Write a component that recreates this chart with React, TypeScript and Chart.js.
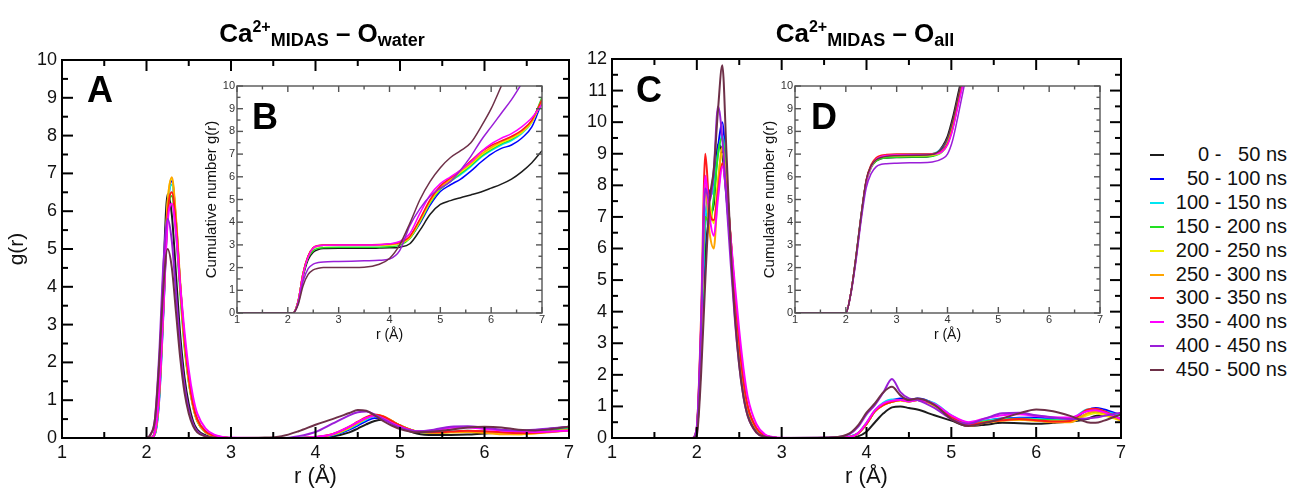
import React, { useEffect, useRef } from "react";
import { Chart, registerables } from "chart.js";

Chart.register(...registerables);

const FONT = "'Liberation Sans', Arial, Helvetica, sans-serif";

const SERIES_LABELS = [
  "0 -   50 ns", "50 - 100 ns", "100 - 150 ns", "150 - 200 ns", "200 - 250 ns",
  "250 - 300 ns", "300 - 350 ns", "350 - 400 ns", "400 - 450 ns", "450 - 500 ns",
];
const SERIES_COLORS = [
  "#1c1c1c", "#0000ff", "#00e6f2", "#22e022", "#f0f000",
  "#ffa500", "#ff1a1a", "#ff00ff", "#9a1ed8", "#6e3048",
];

const X_TICKS = [1, 2, 3, 4, 5, 6, 7];
const Y_TICKS_A = [0, 1, 2, 3, 4, 5, 6, 7, 8, 9, 10];
const Y_TICKS_C = [0, 1, 2, 3, 4, 5, 6, 7, 8, 9, 10, 11, 12];
const Y_TICKS_INSET = [0, 1, 2, 3, 4, 5, 6, 7, 8, 9, 10];

// ---------- Panel A : g(r) Ca-O(water) ----------
const rA = [1.0, 2.0, 2.05, 2.1, 2.15, 2.2, 2.25, 2.3, 2.35, 2.4,
  2.45, 2.5, 2.55, 2.6, 2.7, 2.8, 2.9, 3.0, 3.4, 3.6,
  3.8, 4.0, 4.2, 4.4, 4.5, 4.6, 4.7, 4.8, 4.9, 5.0,
  5.2, 5.4, 5.6, 5.8, 6.0, 6.2, 6.4, 6.6, 6.8, 7.0];
const gA_0_50 = [0, 0, 0, 0.2, 1.6, 4.4, 6.45, 5.9, 4.3, 2.7,
  1.6, 0.9, 0.45, 0.22, 0.07, 0.02, 0.01, 0, 0, 0,
  0, 0.01, 0.04, 0.15, 0.25, 0.36, 0.45, 0.48, 0.4, 0.28,
  0.12, 0.08, 0.08, 0.09, 0.12, 0.14, 0.17, 0.2, 0.25, 0.3];
const gA_50_100 = [0, 0, 0, 0.1, 1.0, 3.3, 6.0, 6.8, 5.7, 4.0,
  2.5, 1.5, 0.85, 0.45, 0.15, 0.05, 0.02, 0, 0, 0,
  0, 0.02, 0.07, 0.22, 0.33, 0.45, 0.53, 0.52, 0.44, 0.33,
  0.17, 0.14, 0.16, 0.17, 0.16, 0.13, 0.13, 0.16, 0.2, 0.26];
const gA_100_150 = [0, 0, 0, 0.12, 1.1, 3.5, 6.1, 6.7, 5.7, 4.0,
  2.6, 1.6, 0.9, 0.5, 0.17, 0.06, 0.02, 0, 0, 0,
  0, 0.02, 0.08, 0.25, 0.37, 0.49, 0.57, 0.55, 0.45, 0.33,
  0.17, 0.15, 0.17, 0.19, 0.17, 0.14, 0.14, 0.17, 0.21, 0.25];
const gA_150_200 = [0, 0, 0, 0.12, 1.1, 3.4, 5.9, 6.4, 5.4, 3.8,
  2.4, 1.5, 0.85, 0.45, 0.15, 0.05, 0.02, 0, 0, 0,
  0, 0.02, 0.09, 0.27, 0.4, 0.52, 0.6, 0.56, 0.45, 0.33,
  0.17, 0.14, 0.16, 0.18, 0.16, 0.12, 0.12, 0.15, 0.19, 0.24];
const gA_200_250 = [0, 0, 0, 0.14, 1.2, 3.6, 6.2, 6.85, 5.7, 4.0,
  2.5, 1.5, 0.85, 0.45, 0.15, 0.05, 0.02, 0, 0, 0,
  0, 0.02, 0.09, 0.27, 0.4, 0.52, 0.6, 0.57, 0.45, 0.33,
  0.17, 0.14, 0.15, 0.17, 0.15, 0.11, 0.1, 0.13, 0.17, 0.22];
const gA_250_300 = [0, 0, 0, 0.15, 1.2, 3.6, 6.2, 6.9, 5.8, 4.1,
  2.6, 1.6, 0.9, 0.48, 0.16, 0.05, 0.02, 0, 0, 0,
  0, 0.02, 0.1, 0.28, 0.4, 0.52, 0.61, 0.58, 0.46, 0.33,
  0.17, 0.14, 0.15, 0.16, 0.14, 0.1, 0.1, 0.12, 0.16, 0.2];
const gA_300_350 = [0, 0, 0, 0.15, 1.2, 3.5, 5.9, 6.5, 5.6, 4.0,
  2.6, 1.6, 0.9, 0.5, 0.17, 0.06, 0.02, 0, 0, 0,
  0, 0.02, 0.1, 0.3, 0.43, 0.55, 0.62, 0.57, 0.45, 0.33,
  0.17, 0.15, 0.17, 0.19, 0.18, 0.15, 0.13, 0.14, 0.17, 0.2];
const gA_350_400 = [0, 0, 0, 0.15, 1.2, 3.4, 5.7, 6.2, 5.4, 4.0,
  2.8, 1.8, 1.1, 0.65, 0.25, 0.09, 0.03, 0.01, 0, 0,
  0, 0.03, 0.1, 0.3, 0.42, 0.53, 0.58, 0.52, 0.4, 0.3,
  0.18, 0.2, 0.27, 0.28, 0.24, 0.2, 0.18, 0.16, 0.17, 0.2];
const gA_400_450 = [0, 0, 0.1, 0.5, 2.2, 4.6, 5.8, 5.2, 3.8, 2.4,
  1.4, 0.75, 0.38, 0.18, 0.05, 0.01, 0, 0, 0, 0,
  0.05, 0.16, 0.38, 0.6, 0.68, 0.7, 0.62, 0.5, 0.38, 0.28,
  0.18, 0.22, 0.3, 0.31, 0.27, 0.22, 0.2, 0.22, 0.26, 0.3];
const gA_450_500 = [0, 0, 0.1, 0.5, 2.0, 4.0, 5.0, 4.5, 3.3, 2.1,
  1.2, 0.65, 0.32, 0.15, 0.04, 0.01, 0, 0, 0.01, 0.05,
  0.18, 0.35, 0.5, 0.66, 0.74, 0.72, 0.6, 0.45, 0.33, 0.24,
  0.15, 0.17, 0.22, 0.28, 0.3, 0.28, 0.22, 0.2, 0.24, 0.3];

// ---------- Inset B : cumulative number, O(water) ----------
const rB = [1.0, 2.1, 2.2, 2.3, 2.4, 2.5, 2.6, 2.7, 3.0, 3.5,
  3.8, 4.0, 4.2, 4.4, 4.6, 4.8, 5.0, 5.2, 5.4, 5.6,
  5.8, 6.0, 6.2, 6.4, 6.6, 6.8, 7.0];
const nB_0_50 = [0, 0, 0.45, 1.6, 2.35, 2.68, 2.8, 2.84, 2.85, 2.85,
  2.86, 2.87, 2.9, 3.05, 3.65, 4.35, 4.78, 4.95, 5.08, 5.2,
  5.33, 5.5, 5.68, 5.9, 6.22, 6.62, 7.15];
const nB_50_100 = [0, 0, 0.5, 1.75, 2.5, 2.85, 2.95, 2.98, 3.0, 3.0,
  3.0, 3.02, 3.06, 3.3, 3.95, 4.75, 5.35, 5.65, 5.9, 6.25,
  6.65, 7.0, 7.25, 7.4, 7.7, 8.2, 9.3];
const nB_100_150 = [0, 0, 0.5, 1.75, 2.5, 2.86, 2.96, 2.99, 3.0, 3.0,
  3.0, 3.02, 3.08, 3.35, 4.05, 4.85, 5.45, 5.8, 6.1, 6.45,
  6.85, 7.15, 7.4, 7.6, 7.9, 8.4, 9.4];
const nB_150_200 = [0, 0, 0.5, 1.7, 2.45, 2.75, 2.85, 2.88, 2.9, 2.9,
  2.9, 2.92, 2.98, 3.28, 4.0, 4.85, 5.45, 5.8, 6.15, 6.5,
  6.9, 7.2, 7.45, 7.65, 7.95, 8.45, 9.5];
const nB_200_250 = [0, 0, 0.5, 1.75, 2.5, 2.85, 2.94, 2.97, 2.98, 2.98,
  2.98, 3.0, 3.06, 3.32, 4.05, 4.9, 5.5, 5.85, 6.2, 6.55,
  6.95, 7.25, 7.5, 7.7, 7.95, 8.4, 9.4];
const nB_250_300 = [0, 0, 0.5, 1.75, 2.5, 2.86, 2.96, 2.99, 3.0, 3.0,
  3.0, 3.02, 3.08, 3.35, 4.1, 4.95, 5.55, 5.9, 6.25, 6.6,
  7.0, 7.3, 7.55, 7.75, 8.0, 8.45, 9.3];
const nB_300_350 = [0, 0, 0.5, 1.75, 2.52, 2.88, 2.97, 3.0, 3.01, 3.01,
  3.02, 3.04, 3.1, 3.38, 4.15, 5.0, 5.6, 5.95, 6.3, 6.7,
  7.1, 7.38, 7.58, 7.78, 8.05, 8.5, 9.4];
const nB_350_400 = [0, 0, 0.48, 1.7, 2.48, 2.86, 2.96, 2.99, 3.0, 3.0,
  3.01, 3.05, 3.15, 3.5, 4.4, 5.2, 5.7, 6.0, 6.3, 6.65,
  7.1, 7.45, 7.7, 7.9, 8.2, 8.6, 9.2];
const nB_400_450 = [0, 0, 0.4, 1.4, 1.95, 2.15, 2.22, 2.25, 2.27, 2.3,
  2.32, 2.38, 2.75, 3.85, 4.6, 5.15, 5.5, 5.8, 6.3, 6.9,
  7.6, 8.2, 8.8, 9.4, 10.1, 10.8, 11.5];
const nB_450_500 = [0, 0, 0.35, 1.2, 1.7, 1.9, 1.97, 2.0, 2.0, 2.02,
  2.15, 2.4, 3.0, 3.95, 5.0, 5.8, 6.4, 6.85, 7.15, 7.5,
  8.2, 9.0, 10.0, 11.0, 12.0, 13.0, 14.0];

// ---------- Panel C : g(r) Ca-O(all) ----------
const rC = [1.0, 1.95, 2.0, 2.05, 2.1, 2.15, 2.2, 2.25, 2.3, 2.35,
  2.4, 2.45, 2.5, 2.55, 2.6, 2.7, 2.8, 2.9, 3.0, 3.6,
  3.8, 3.9, 4.0, 4.1, 4.2, 4.3, 4.4, 4.5, 4.6, 4.8,
  5.0, 5.2, 5.4, 5.6, 5.8, 6.0, 6.2, 6.4, 6.6, 6.7,
  6.8, 7.0];
const gC_0_50 = [0, 0, 0.2, 2.5, 5.8, 7.0, 7.4, 9.3, 9.0, 7.6,
  6.0, 4.3, 2.8, 1.6, 0.9, 0.25, 0.07, 0.02, 0, 0,
  0.01, 0.05, 0.2, 0.5, 0.78, 0.97, 1.0, 0.95, 0.9, 0.72,
  0.55, 0.38, 0.42, 0.48, 0.47, 0.45, 0.48, 0.52, 0.6, 0.7,
  0.72, 0.62];
const gC_50_100 = [0, 0, 0.3, 3.0, 6.8, 7.8, 8.0, 9.2, 10.0, 8.2,
  6.2, 4.4, 2.9, 1.7, 0.95, 0.3, 0.08, 0.02, 0, 0,
  0.04, 0.15, 0.45, 0.85, 1.1, 1.2, 1.25, 1.2, 1.25, 1.08,
  0.7, 0.45, 0.55, 0.62, 0.64, 0.65, 0.6, 0.58, 0.88, 0.95,
  0.9, 0.72];
const gC_100_150 = [0, 0, 0.3, 3.0, 6.9, 7.6, 7.9, 9.0, 9.6, 8.1,
  6.2, 4.4, 2.9, 1.7, 0.95, 0.3, 0.08, 0.02, 0, 0,
  0.04, 0.16, 0.48, 0.88, 1.12, 1.22, 1.2, 1.18, 1.22, 1.1,
  0.72, 0.48, 0.55, 0.6, 0.62, 0.6, 0.58, 0.6, 0.9, 0.92,
  0.85, 0.7];
const gC_150_200 = [0, 0, 0.3, 3.1, 7.0, 6.8, 7.6, 9.0, 9.5, 8.1,
  6.2, 4.4, 2.9, 1.7, 0.95, 0.3, 0.08, 0.02, 0, 0,
  0.03, 0.14, 0.45, 0.85, 1.05, 1.15, 1.2, 1.15, 1.2, 1.05,
  0.68, 0.45, 0.52, 0.58, 0.6, 0.58, 0.56, 0.55, 0.75, 0.8,
  0.75, 0.6];
const gC_200_250 = [0, 0, 0.3, 3.2, 8.0, 7.4, 6.8, 8.2, 9.0, 7.9,
  6.2, 4.4, 2.9, 1.7, 0.95, 0.3, 0.08, 0.02, 0, 0,
  0.03, 0.14, 0.45, 0.85, 1.05, 1.15, 1.18, 1.15, 1.2, 1.02,
  0.66, 0.42, 0.5, 0.56, 0.58, 0.55, 0.52, 0.52, 0.72, 0.78,
  0.72, 0.55];
const gC_250_300 = [0, 0, 0.3, 3.4, 8.0, 6.5, 6.0, 8.0, 9.2, 8.0,
  6.3, 4.5, 3.0, 1.8, 1.0, 0.32, 0.08, 0.02, 0, 0,
  0.03, 0.14, 0.45, 0.85, 1.05, 1.15, 1.2, 1.15, 1.2, 1.05,
  0.66, 0.38, 0.48, 0.55, 0.58, 0.55, 0.5, 0.5, 0.78, 0.85,
  0.78, 0.55];
const gC_300_350 = [0, 0, 0.35, 3.8, 9.0, 7.2, 6.9, 7.8, 8.7, 7.8,
  6.3, 4.5, 3.0, 1.8, 1.0, 0.32, 0.08, 0.02, 0, 0,
  0.03, 0.14, 0.45, 0.85, 1.05, 1.15, 1.2, 1.18, 1.2, 1.05,
  0.68, 0.42, 0.5, 0.56, 0.6, 0.56, 0.52, 0.54, 0.9, 0.93,
  0.85, 0.6];
const gC_350_400 = [0, 0, 0.3, 3.5, 8.3, 7.0, 6.4, 7.6, 8.6, 7.7,
  6.3, 4.8, 3.4, 2.2, 1.3, 0.45, 0.12, 0.03, 0.01, 0,
  0.03, 0.15, 0.48, 0.88, 1.1, 1.18, 1.2, 1.15, 1.2, 1.08,
  0.72, 0.5, 0.62, 0.72, 0.75, 0.7, 0.66, 0.65, 0.85, 0.88,
  0.82, 0.6];
const gC_400_450 = [0, 0, 0.35, 3.5, 7.9, 7.5, 8.5, 10.5, 9.5, 7.5,
  5.5, 3.7, 2.3, 1.3, 0.7, 0.18, 0.04, 0.01, 0, 0.02,
  0.12, 0.35, 0.75, 1.05, 1.45, 1.87, 1.45, 1.25, 1.2, 0.95,
  0.6, 0.45, 0.62, 0.78, 0.8, 0.72, 0.65, 0.6, 0.62, 0.65,
  0.7, 0.8];
const gC_450_500 = [0, 0, 0.1, 2.0, 5.0, 7.5, 8.5, 10.4, 11.8, 9.0,
  6.0, 3.8, 2.3, 1.3, 0.7, 0.18, 0.04, 0.01, 0, 0.02,
  0.15, 0.4, 0.8, 1.1, 1.45, 1.62, 1.35, 1.2, 1.25, 1.05,
  0.6, 0.38, 0.48, 0.62, 0.78, 0.9, 0.85, 0.7, 0.5, 0.48,
  0.55, 0.75];

// ---------- Inset D : cumulative number, O(all) ----------
const rD = [1.0, 2.0, 2.1, 2.2, 2.3, 2.4, 2.5, 2.6, 2.7, 2.8,
  3.0, 3.4, 3.7, 3.9, 4.0, 4.1, 4.2, 4.3, 4.4, 4.6];
const nD_0_50 = [0, 0, 0.9, 2.5, 4.3, 5.8, 6.45, 6.7, 6.8, 6.83, 6.85, 6.86, 6.9, 7.35, 7.8, 8.6, 9.6, 10.6, 11.6, 13.5];
const nD_50_100 = [0, 0, 0.9, 2.45, 4.25, 5.8, 6.5, 6.8, 6.9, 6.94, 6.96, 6.98, 7.0, 7.25, 7.6, 8.3, 9.3, 10.3, 11.3, 13.3];
const nD_100_150 = [0, 0, 0.9, 2.45, 4.25, 5.8, 6.5, 6.8, 6.92, 6.96, 6.98, 7.0, 7.02, 7.3, 7.65, 8.35, 9.35, 10.35, 11.4, 13.3];
const nD_150_200 = [0, 0, 0.88, 2.4, 4.2, 5.7, 6.4, 6.7, 6.8, 6.84, 6.86, 6.87, 6.9, 7.1, 7.45, 8.2, 9.2, 10.2, 11.2, 13.2];
const nD_200_250 = [0, 0, 0.88, 2.4, 4.2, 5.75, 6.45, 6.75, 6.86, 6.9, 6.92, 6.93, 6.95, 7.12, 7.45, 8.15, 9.15, 10.2, 11.2, 13.2];
const nD_250_300 = [0, 0, 0.9, 2.45, 4.25, 5.8, 6.5, 6.8, 6.9, 6.94, 6.96, 6.97, 6.99, 7.15, 7.5, 8.2, 9.2, 10.2, 11.2, 13.2];
const nD_300_350 = [0, 0, 0.9, 2.45, 4.25, 5.85, 6.55, 6.85, 6.95, 6.98, 7.0, 7.0, 7.02, 7.15, 7.45, 8.1, 9.1, 10.1, 11.1, 13.1];
const nD_350_400 = [0, 0, 0.88, 2.4, 4.2, 5.75, 6.45, 6.78, 6.9, 6.94, 6.96, 6.97, 6.99, 7.12, 7.4, 8.05, 9.05, 10.05, 11.1, 13.1];
const nD_400_450 = [0, 0, 0.85, 2.3, 4.05, 5.5, 6.15, 6.45, 6.55, 6.58, 6.6, 6.62, 6.65, 6.8, 7.0, 7.6, 8.6, 9.7, 10.8, 13.0];
const nD_450_500 = [0, 0, 0.9, 2.5, 4.3, 5.85, 6.5, 6.75, 6.85, 6.9, 6.93, 6.95, 6.98, 7.3, 7.7, 8.45, 9.45, 10.45, 11.5, 13.4];

const SERIES_A = [gA_0_50, gA_50_100, gA_100_150, gA_150_200, gA_200_250, gA_250_300, gA_300_350, gA_350_400, gA_400_450, gA_450_500];
const SERIES_B = [nB_0_50, nB_50_100, nB_100_150, nB_150_200, nB_200_250, nB_250_300, nB_300_350, nB_350_400, nB_400_450, nB_450_500];
const SERIES_C = [gC_0_50, gC_50_100, gC_100_150, gC_150_200, gC_200_250, gC_250_300, gC_300_350, gC_350_400, gC_400_450, gC_450_500];
const SERIES_D = [nD_0_50, nD_50_100, nD_100_150, nD_150_200, nD_200_250, nD_250_300, nD_300_350, nD_350_400, nD_400_450, nD_450_500];

type FrameStyle = { color: string; width: number; tickWidth: number; major: number; minor: number };

function withMinor(vals: number[]) {
  const out: { v: number; len: "major" | "minor" }[] = [];
  for (let i = 0; i < vals.length; i++) {
    out.push({ v: vals[i], len: "major" });
    if (i < vals.length - 1) out.push({ v: (vals[i] + vals[i + 1]) / 2, len: "minor" });
  }
  return out;
}

// Frame with inward major/minor ticks on all four sides (xmgrace style)
function makeFramePlugin(st: FrameStyle, xVals: number[], yVals: number[]) {
  const xt = withMinor(xVals);
  const yt = withMinor(yVals);
  return {
    id: "frameTicks",
    afterDraw(chart: any) {
      const ctx: CanvasRenderingContext2D = chart.ctx;
      const a = chart.chartArea;
      const xs = chart.scales.x;
      const ys = chart.scales.y;
      ctx.save();
      ctx.strokeStyle = st.color;
      ctx.lineWidth = st.tickWidth;
      for (const t of xt) {
        const px = xs.getPixelForValue(t.v);
        const L = t.len === "major" ? st.major : st.minor;
        ctx.beginPath();
        ctx.moveTo(px, a.bottom);
        ctx.lineTo(px, a.bottom - L);
        ctx.stroke();
        ctx.beginPath();
        ctx.moveTo(px, a.top);
        ctx.lineTo(px, a.top + L);
        ctx.stroke();
      }
      for (const t of yt) {
        const py = ys.getPixelForValue(t.v);
        const L = t.len === "major" ? st.major : st.minor;
        ctx.beginPath();
        ctx.moveTo(a.left, py);
        ctx.lineTo(a.left + L, py);
        ctx.stroke();
        ctx.beginPath();
        ctx.moveTo(a.right, py);
        ctx.lineTo(a.right - L, py);
        ctx.stroke();
      }
      ctx.lineWidth = st.width;
      ctx.strokeRect(a.left, a.top, a.right - a.left, a.bottom - a.top);
      ctx.restore();
    },
  };
}

type PanelCfg = {
  r: number[];
  series: number[][];
  yTicks: number[];
  mL: number; mT: number; mR: number; mB: number;
  tickFont: number; tickColor: string; xPad: number; yPad: number;
  xTitle: string; xTitleSize: number; xTitlePad: number;
  yTitle?: string; yTitleSize?: number; yTitlePad?: number;
  lineWidth: number;
  frame: FrameStyle;
};

function buildConfig(p: PanelCfg): any {
  const yMin = p.yTicks[0];
  const yMax = p.yTicks[p.yTicks.length - 1];
  return {
    type: "line",
    data: {
      datasets: p.series.map((ys, i) => ({
        label: SERIES_LABELS[i],
        data: p.r.map((x, j) => ({ x, y: ys[j] })),
        borderColor: SERIES_COLORS[i],
        backgroundColor: SERIES_COLORS[i],
        borderWidth: p.lineWidth,
        pointRadius: 0,
        fill: false,
        cubicInterpolationMode: "monotone",
        order: p.series.length - i,
      })),
    },
    options: {
      animation: false,
      responsive: false,
      maintainAspectRatio: false,
      events: [],
      layout: { padding: { top: p.mT, right: p.mR, left: 0, bottom: 0 } },
      plugins: {
        legend: { display: false },
        tooltip: { enabled: false },
      },
      scales: {
        x: {
          type: "linear",
          min: X_TICKS[0],
          max: X_TICKS[X_TICKS.length - 1],
          afterBuildTicks: (s: any) => { s.ticks = X_TICKS.map((v) => ({ value: v })); },
          afterFit: (s: any) => { s.height = p.mB; },
          grid: { display: false, drawTicks: false },
          border: { display: false },
          ticks: {
            autoSkip: false, maxRotation: 0, padding: p.xPad, color: p.tickColor,
            font: { family: FONT, size: p.tickFont },
          },
          title: {
            display: true, text: p.xTitle, color: "#111",
            font: { family: FONT, size: p.xTitleSize },
            padding: { top: 0, bottom: p.xTitlePad },
          },
        },
        y: {
          type: "linear",
          min: yMin,
          max: yMax,
          afterBuildTicks: (s: any) => { s.ticks = p.yTicks.map((v) => ({ value: v })); },
          afterFit: (s: any) => { s.width = p.mL; },
          grid: { display: false, drawTicks: false },
          border: { display: false },
          ticks: {
            autoSkip: false, padding: p.yPad, color: p.tickColor,
            font: { family: FONT, size: p.tickFont },
          },
          title: {
            display: !!p.yTitle, text: p.yTitle || "", color: "#111",
            font: { family: FONT, size: p.yTitleSize || 12 },
            padding: { top: p.yTitlePad || 0, bottom: 0 },
          },
        },
      },
    },
    plugins: [makeFramePlugin(p.frame, X_TICKS, p.yTicks)],
  };
}

function ChartCanvas(props: { cfg: PanelCfg; left: number; top: number; width: number; height: number }) {
  const ref = useRef<HTMLCanvasElement | null>(null);
  useEffect(() => {
    const chart = new Chart(ref.current as HTMLCanvasElement, buildConfig(props.cfg));
    return () => chart.destroy();
  }, []);
  return (
    <canvas
      ref={ref}
      width={props.width}
      height={props.height}
      style={{ position: "absolute", left: props.left, top: props.top, width: props.width, height: props.height, display: "block" }}
    />
  );
}

const mainCommon = {
  tickFont: 18, tickColor: "#111", xPad: 4, yPad: 5,
  xTitle: "r (Å)", xTitleSize: 22, xTitlePad: 0,
  lineWidth: 2,
  frame: { color: "#000", width: 2, tickWidth: 2, major: 11, minor: 6 },
};
const insetCommon = {
  yTicks: Y_TICKS_INSET,
  mL: 37, mT: 12, mR: 10, mB: 34,
  tickFont: 11, tickColor: "#333", xPad: 0, yPad: 2,
  xTitle: "r (Å)", xTitleSize: 14, xTitlePad: 3,
  yTitle: "Cumulative number g(r)", yTitleSize: 15, yTitlePad: 3,
  lineWidth: 1.5,
  frame: { color: "#555", width: 1.4, tickWidth: 1.4, major: 6, minor: 3.5 },
};

const cfgA: PanelCfg = { ...mainCommon, r: rA, series: SERIES_A, yTicks: Y_TICKS_A, mL: 62, mT: 20, mR: 16, mB: 52, yTitle: "g(r)", yTitleSize: 21, yTitlePad: 5 };
const cfgC: PanelCfg = { ...mainCommon, r: rC, series: SERIES_C, yTicks: Y_TICKS_C, mL: 27, mT: 19, mR: 15, mB: 52 };
const cfgB: PanelCfg = { ...insetCommon, r: rB, series: SERIES_B };
const cfgD: PanelCfg = { ...insetCommon, r: rD, series: SERIES_D };

function PanelTitle(props: { center: number; sub: string }) {
  return (
    <div
      style={{
        position: "absolute", left: props.center - 200, width: 400, top: 20,
        textAlign: "center", font: `bold 26px ${FONT}`, lineHeight: "26px",
        whiteSpace: "nowrap", color: "#000",
      }}
    >
      Ca
      <span style={{ fontSize: 16, position: "relative", top: -10 }}>2+</span>
      <span style={{ fontSize: 18, position: "relative", top: 4 }}>MIDAS</span>
      {" – O"}
      <span style={{ fontSize: 18, position: "relative", top: 4 }}>{props.sub}</span>
    </div>
  );
}

function Letter(props: { text: string; left: number; top: number }) {
  return (
    <div style={{ position: "absolute", left: props.left, top: props.top, font: `bold 36px ${FONT}`, lineHeight: "36px", color: "#000" }}>
      {props.text}
    </div>
  );
}

export default function App() {
  return (
    <div style={{ position: "fixed", left: 0, top: 0, width: 1290, height: 488, background: "#fff", overflow: "hidden" }}>
      <ChartCanvas cfg={cfgA} left={0} top={40} width={585} height={450} />
      <ChartCanvas cfg={cfgC} left={585} top={40} width={551} height={450} />
      <ChartCanvas cfg={cfgB} left={200} top={74} width={352} height={273} />
      <ChartCanvas cfg={cfgD} left={758} top={74} width={352} height={273} />
      <PanelTitle center={322} sub="water" />
      <PanelTitle center={865} sub="all" />
      <Letter text="A" left={87} top={72} />
      <Letter text="B" left={252} top={99} />
      <Letter text="C" left={636} top={72} />
      <Letter text="D" left={811} top={99} />
      {SERIES_LABELS.map((lab, i) => (
        <div key={lab} style={{ position: "absolute", left: 1148, top: 143 + i * 23.9, width: 140, height: 24 }}>
          <div style={{ position: "absolute", left: 2, top: 11, width: 14, height: 2, background: SERIES_COLORS[i] }} />
          <div style={{ position: "absolute", right: 1, top: 0, lineHeight: "24px", font: `20px ${FONT}`, whiteSpace: "pre", color: "#111" }}>
            {lab}
          </div>
        </div>
      ))}
    </div>
  );
}
